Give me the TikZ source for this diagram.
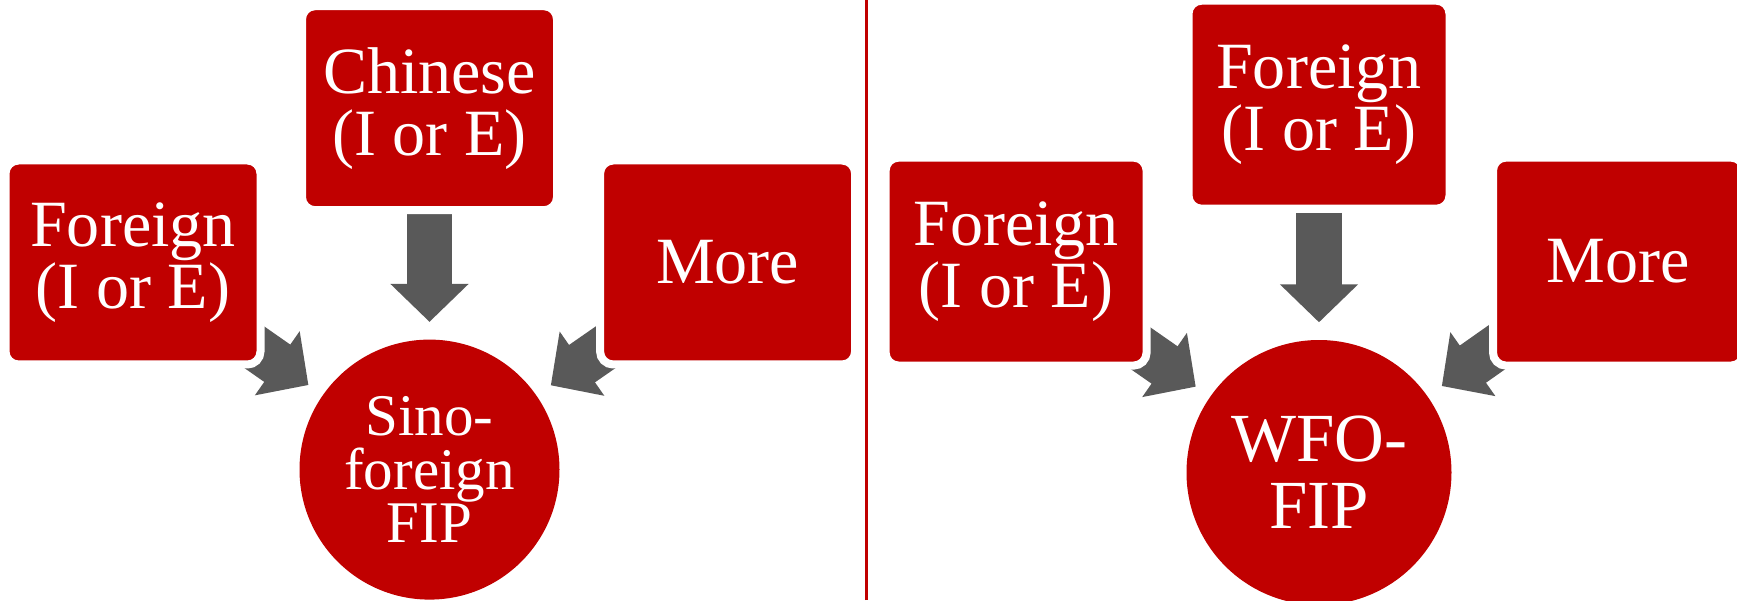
\documentclass[tikz,border=0pt]{standalone}
\usepackage{fontspec}
\setmainfont{Liberation Serif}
\usetikzlibrary{arrows.meta,backgrounds}
\definecolor{boxred}{HTML}{C00000}
\definecolor{arrowgray}{HTML}{595959}

\begin{document}
\begin{tikzpicture}[
    redbox/.style={rectangle, rounded corners=0.13cm, fill=boxred, draw=white,
      line width=0.08cm, text=white, align=center,
      font=\fontsize{18.8}{17.6}\selectfont},
    boxA/.style={redbox, minimum width=2.55cm, minimum height=2.04cm},
    boxB/.style={redbox, minimum width=2.61cm, minimum height=2.08cm},
    hub/.style={circle, fill=boxred, text=white, align=center, inner sep=0pt},
    bigarrow/.style={draw=arrowgray, line width=0.455cm, shorten >=0.17cm,
      -{Triangle[length=0.38cm, width=0.76cm]}}
  ]
  \useasboundingbox (0,0) rectangle (17.37,6);

  \node[boxA] (foreignA) at (1.33,3.375) {Foreign\\(I or E)};
  \node[boxA] (chineseA) at (4.295,4.918) {Chinese\\(I or E)};
  \node[boxA] (moreA) at (7.276,3.375) {More};
  \node[hub, minimum size=2.6cm, font=\fontsize{16.8}{15.3}\selectfont]
    (sinoA) at (4.295,1.304) {Sino-\\foreign\\FIP};

  \draw[boxred, line width=0.03cm] (8.66,0) -- (8.66,6);

  \node[boxB] (foreignB) at (10.161,3.384) {Foreign\\(I or E)};
  \node[boxB] (foreignC) at (13.19,4.953) {Foreign\\(I or E)};
  \node[boxB, minimum width=2.51cm] (moreB) at (16.185,3.384) {More};
  \node[hub, minimum size=2.65cm, font=\fontsize{19.6}{19.1}\selectfont]
    (wfoB) at (13.19,1.275) {WFO-\\FIP};

  \begin{scope}[on background layer]
    \draw[bigarrow] (foreignA.center) -- (sinoA);
    \draw[bigarrow] (chineseA) -- (sinoA);
    \draw[bigarrow] (moreA.center) -- (sinoA);
    \draw[bigarrow] (foreignB.center) -- (wfoB);
    \draw[bigarrow] (foreignC) -- (wfoB);
    \draw[bigarrow] (moreB.center) -- (wfoB);
  \end{scope}
\end{tikzpicture}
\end{document}
